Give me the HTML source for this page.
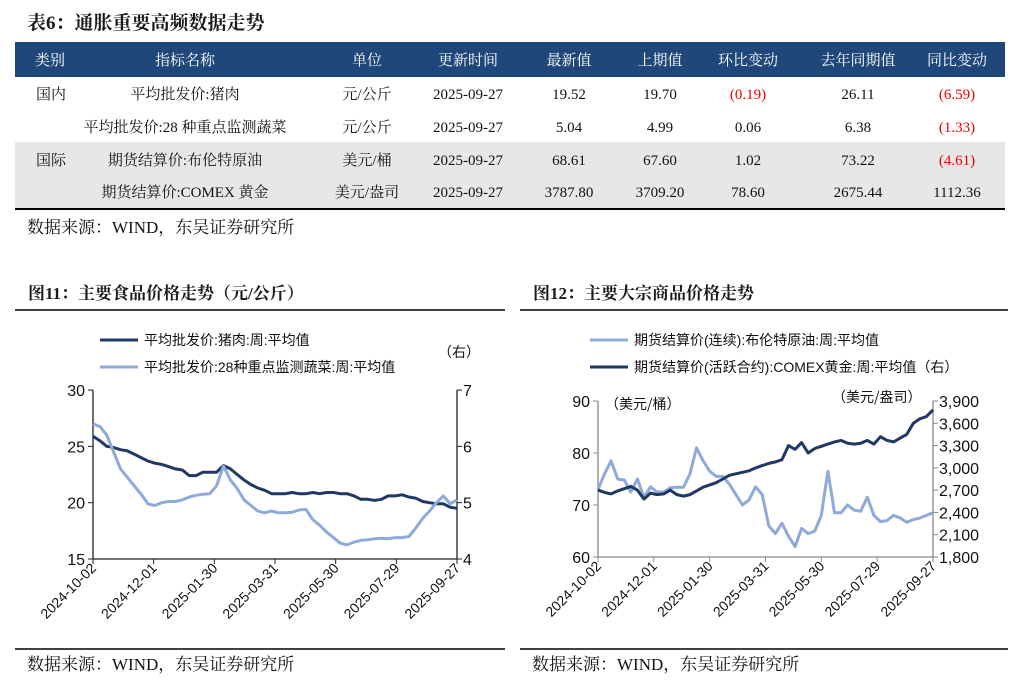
<!DOCTYPE html>
<html><head><meta charset="utf-8"><style>
html,body{margin:0;padding:0;background:#fff;}
body{width:1023px;height:684px;position:relative;overflow:hidden;font-family:"Liberation Serif","Noto Serif CJK SC",serif;}
svg{position:absolute;left:0;top:0;}
</style></head><body>
<svg id="page" width="1023" height="684">
<g font-family="Liberation Serif, Noto Serif CJK SC, serif">
<text x="27" y="29" font-size="19" font-weight="bold" fill="#1a1a1a">表6：通胀重要高频数据走势</text>
<rect x="15" y="42" width="990" height="35" fill="#1f4779"/>
<rect x="15" y="142" width="990" height="66" fill="#e7e7e7"/>
<line x1="15" y1="209" x2="1005" y2="209" stroke="#000" stroke-width="2"/>
<g id="tbl" font-size="15"></g>
<text x="27" y="233" font-size="17" fill="#111">数据来源：WIND，东吴证券研究所</text>
</g>
<g>
<text x="28" y="299" font-size="17" font-weight="bold" fill="#1a1a1a" font-family="Liberation Serif, Noto Serif CJK SC, serif">图11：主要食品价格走势（元/公斤）</text>
<line x1="15" y1="310" x2="505" y2="310" stroke="#000" stroke-width="1.5"/>
<line x1="15" y1="649" x2="505" y2="649" stroke="#000" stroke-width="1.5"/>
<text x="27" y="670" font-size="17" fill="#111" font-family="Liberation Serif, Noto Serif CJK SC, serif">数据来源：WIND，东吴证券研究所</text>
<g id="c1"></g>
</g>
<g>
<text x="533" y="299" font-size="17" font-weight="bold" fill="#1a1a1a" font-family="Liberation Serif, Noto Serif CJK SC, serif">图12：主要大宗商品价格走势</text>
<line x1="520" y1="310" x2="1008" y2="310" stroke="#000" stroke-width="1.5"/>
<line x1="520" y1="649" x2="1008" y2="649" stroke="#000" stroke-width="1.5"/>
<text x="532" y="670" font-size="17" fill="#111" font-family="Liberation Serif, Noto Serif CJK SC, serif">数据来源：WIND，东吴证券研究所</text>
<g id="c2"></g>
</g>
</svg>
<script>
const NS="http://www.w3.org/2000/svg";
function mk(p,tag,attrs,txt){const e=document.createElementNS(NS,tag);for(const k in attrs)e.setAttribute(k,attrs[k]);if(txt!==undefined)e.textContent=txt;p.appendChild(e);return e;}

// ---- table ----
const headers=["类别","指标名称","单位","更新时间","最新值","上期值","环比变动","去年同期值","同比变动"];
const colX=[50,185,367,468,569,660,748,858,957];
const rowsCat=["国内","","国际",""];
const rowsName=["平均批发价:猪肉","平均批发价:28 种重点监测蔬菜","期货结算价:布伦特原油","期货结算价:COMEX 黄金"];
const rowsUnit=["元/公斤","元/公斤","美元/桶","美元/盎司"];
const rowsDate=["2025-09-27","2025-09-27","2025-09-27","2025-09-27"];
const rowsLatest=["19.52","5.04","68.61","3787.80"];
const rowsPrev=["19.70","4.99","67.60","3709.20"];
const rowsMoM=["(0.19)","0.06","1.02","78.60"];
const rowsYago=["26.11","6.38","73.22","2675.44"];
const rowsYoY=["(6.59)","(1.33)","(4.61)","1112.36"];
const tbl=document.getElementById("tbl");
headers.forEach((h,i)=>{const t=mk(tbl,"text",{x:colX[i],y:65,"text-anchor":"middle",fill:"#fff"},h);

});
const rowY=[99,132,165,197];
for(let r=0;r<4;r++){
 const cells=[rowsCat[r],rowsName[r],rowsUnit[r],rowsDate[r],rowsLatest[r],rowsPrev[r],rowsMoM[r],rowsYago[r],rowsYoY[r]];
 cells.forEach((c,i)=>{if(!c)return;const red=c.startsWith("(");
  const t=mk(tbl,"text",{x:i==0?36:colX[i],y:rowY[r],"text-anchor":i==0?"start":"middle",fill:red?"#e00":"#111"},c);
  
  });
}

// ---- chart 11 data ----
const c1Ticks=["2024-10-02","2024-12-01","2025-01-30","2025-03-31","2025-05-30","2025-07-29","2025-09-27"];
const c1LeftTicks=[30,25,20,15];
const c1RightTicks=[7,6,5,4];
const porkVals=[25.9,25.5,25.0,24.9,24.7,24.6,24.3,24.0,23.7,23.5,23.4,23.2,23.0,22.9,22.4,22.4,22.7,22.7,22.7,23.3,23.0,22.5,22.0,21.6,21.3,21.1,20.8,20.8,20.8,20.9,20.8,20.8,20.9,20.8,20.9,20.9,20.8,20.8,20.6,20.3,20.3,20.2,20.3,20.6,20.6,20.7,20.5,20.4,20.1,20.0,19.9,19.9,19.6,19.5];
const vegVals=[6.4,6.35,6.2,5.9,5.6,5.45,5.3,5.15,4.98,4.95,5.0,5.02,5.02,5.05,5.1,5.13,5.15,5.16,5.3,5.65,5.4,5.25,5.05,4.95,4.85,4.82,4.85,4.82,4.82,4.83,4.87,4.88,4.7,4.6,4.48,4.38,4.28,4.25,4.3,4.33,4.34,4.36,4.37,4.36,4.38,4.38,4.4,4.55,4.72,4.85,5.0,5.12,4.98,5.05];

// ---- chart 12 data ----
const c2Ticks=c1Ticks;
const c2LeftTicks=[90,80,70,60];
const c2RightTicks=[3900,3600,3300,3000,2700,2400,2100,1800];
const oilVals=[73,76,78.5,75,74.8,72.5,75,71.5,73.5,72.5,72.5,73.3,73.4,73.4,76,81,78.5,76.5,75.5,75.5,74,72,70,71,73.5,72,66,64.5,66.5,64,62,65.5,64.5,65,68,76.5,68.5,68.5,70,69,68.8,71.5,68,66.8,67,68,67.5,66.7,67.2,67.5,68,68.5];
const goldVals=[2700,2670,2650,2690,2720,2750,2700,2580,2660,2640,2650,2700,2640,2620,2640,2690,2740,2770,2800,2850,2900,2920,2940,2960,3000,3030,3060,3080,3110,3300,3250,3340,3200,3260,3290,3320,3350,3370,3330,3320,3330,3370,3320,3420,3370,3350,3400,3450,3600,3660,3690,3780];

const DARK="#1f3864",LIGHT="#8eaadb";
function chart(g,o){
 const lin=(d0,d1,r0,r1)=>v=>r0+(v-d0)/(d1-d0)*(r1-r0);
 const yL=lin(o.lmin,o.lmax,o.y0,o.y1), yR=lin(o.rmin,o.rmax,o.y0,o.y1);
 const ax=o.axis;
 mk(g,"line",{x1:o.x0,y1:o.y1,x2:o.x0,y2:o.y0,stroke:ax,"stroke-width":1.3});
 mk(g,"line",{x1:o.x1,y1:o.y1,x2:o.x1,y2:o.y0,stroke:ax,"stroke-width":1.3});
 mk(g,"line",{x1:o.x0,y1:o.y0,x2:o.x1,y2:o.y0,stroke:ax,"stroke-width":1.3});
 o.lt.forEach(v=>{const y=yL(v);mk(g,"line",{x1:o.x0-5,y1:y,x2:o.x0,y2:y,stroke:ax});
  const t=mk(g,"text",{x:o.x0-8,y:y+6,"text-anchor":"end","font-size":16,"font-family":"Liberation Sans, sans-serif",fill:"#111"},o.fmtL(v));
  
  });
 o.rt.forEach(v=>{const y=yR(v);mk(g,"line",{x1:o.x1,y1:y,x2:o.x1+5,y2:y,stroke:ax});
  const t=mk(g,"text",{x:o.x1+6,y:y+6,"font-size":16,"font-family":"Liberation Sans, sans-serif",fill:"#111"},o.fmtR(v));
  
  });
 const n=o.xt.length;
 o.xt.forEach((d,i)=>{const x=o.x0+i/(n-1)*(o.x1-o.x0);
  mk(g,"line",{x1:x,y1:o.y0,x2:x,y2:o.y0+5,stroke:ax});
  const t=mk(g,"text",{x:x+4,y:o.y0+10,"text-anchor":"end","font-size":14,"font-family":"Liberation Sans, sans-serif",fill:"#111",transform:`rotate(-45 ${x+4} ${o.y0+10})`},d);
  
  });
 o.series.forEach(s=>{const sc=s.right?yR:yL;const m=s.vals.length;
  const pts=s.vals.map((v,i)=>(o.x0+i/(m-1)*(o.x1-o.x0)).toFixed(1)+","+sc(v).toFixed(1)).join(" ");
  const p=mk(g,"polyline",{points:pts,fill:"none",stroke:s.color,"stroke-width":3,"stroke-linejoin":"round"});
  
  });
}
const g1=document.getElementById("c1");
chart(g1,{x0:93,x1:457,y0:559,y1:390,lmin:15,lmax:30,rmin:4,rmax:7,lt:c1LeftTicks,rt:c1RightTicks,xt:c1Ticks,axis:"#222",
 fmtL:v=>v,fmtR:v=>v,series:[{vals:porkVals,color:DARK,name:"pork-line"},{vals:vegVals,color:LIGHT,right:true,name:"vegetable-line"}]});
const g2=document.getElementById("c2");
chart(g2,{x0:598,x1:933,y0:557,y1:401,lmin:60,lmax:90,rmin:1800,rmax:3900,lt:c2LeftTicks,rt:c2RightTicks,xt:c2Ticks,axis:"#888",
 fmtL:v=>v,fmtR:v=>v.toLocaleString("en-US"),series:[{vals:oilVals,color:LIGHT,name:"brent-oil-line"},{vals:goldVals,color:DARK,right:true,name:"comex-gold-line"}]});

// legends & unit labels
function leg(g,x,y,color,txt,name){mk(g,"line",{x1:x,y1:y,x2:x+38,y2:y,stroke:color,"stroke-width":3});
 const t=mk(g,"text",{x:x+44,y:y+5,"font-size":14,fill:"#111","font-family":"Liberation Sans, Noto Sans CJK SC, sans-serif"},txt);
 
 }
leg(g1,100,340,DARK,"平均批发价:猪肉:周:平均值","legend-pork");
leg(g1,100,367,LIGHT,"平均批发价:28种重点监测蔬菜:周:平均值","legend-vegetable");
mk(g1,"text",{x:438,y:357,"font-size":14,fill:"#111","font-family":"Noto Sans CJK SC, sans-serif"},"（右）");
leg(g2,590,340,LIGHT,"期货结算价(连续):布伦特原油:周:平均值","legend-oil");
leg(g2,590,367,DARK,"期货结算价(活跃合约):COMEX黄金:周:平均值（右）","legend-gold");
mk(g2,"text",{x:605,y:409,"font-size":14,fill:"#111","font-family":"Noto Sans CJK SC, sans-serif"},"（美元/桶）");
mk(g2,"text",{x:832,y:402,"font-size":14,fill:"#111","font-family":"Noto Sans CJK SC, sans-serif"},"（美元/盎司）");
</script>
</body></html>
